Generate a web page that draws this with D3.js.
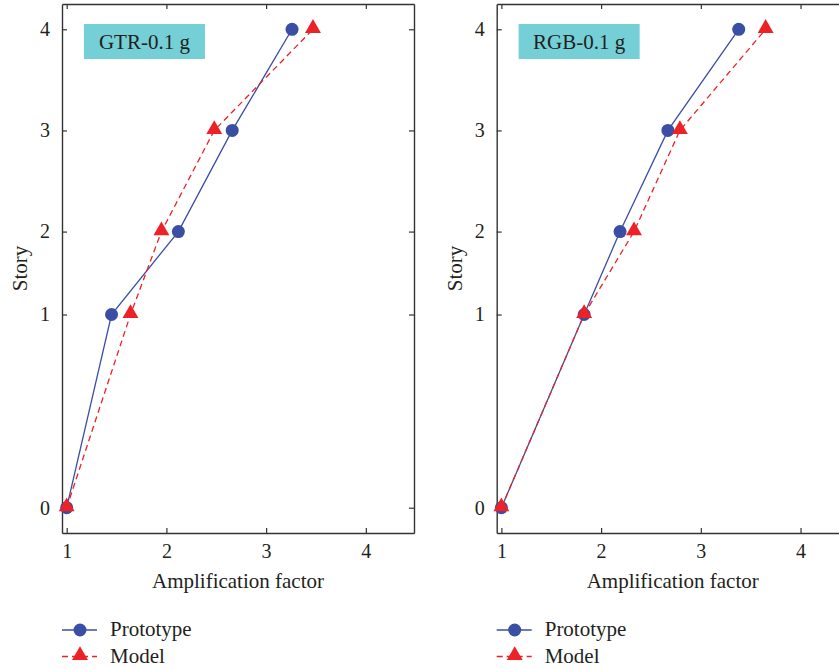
<!DOCTYPE html>
<html>
<head>
<meta charset="utf-8">
<script src="https://cdn.jsdelivr.net/npm/d3@7"></script>
<style>
  body { margin: 0; background: #fff; overflow: hidden; }
</style>
</head>
<body>
<div class="container__chart"></div>
<script>
// data
const storyLabels = [0, 1, 2, 3, 4];
// relative floor elevations (upper stories equal height, first story taller)
const storyLevels = [0, 1.91, 2.73, 3.73, 4.73];
const xTicks = [1, 2, 3, 4];
const panelTitles = ["GTR-0.1 g", "RGB-0.1 g"];
const gtrPrototype = [1, 1.45, 2.12, 2.66, 3.26];
const gtrModel = [1, 1.64, 1.95, 2.48, 3.47];
const rgbPrototype = [1, 1.83, 2.19, 2.67, 3.38];
const rgbModel = [1, 1.83, 2.33, 2.79, 3.65];
const seriesNames = ["Prototype", "Model"];

const WIDTH = 839;
const HEIGHT = 669;
const PLOT_W = 352;
const PLOT_H = 529;
const TOP = 4;
const BLUE = "#3a4ea3";
const RED = "#ec2227";
const AXIS = "#333";
const FONT = '"Liberation Serif", "DejaVu Serif", serif';
const INK = "#231f20";

const svg = d3.select(".container__chart")
    .append("svg")
    .attr("width", WIDTH)
    .attr("height", HEIGHT)
    .style("font-family", FONT);

const xScale = d3.scaleLinear().domain([0.953, 4.483]).range([0, PLOT_W]);
const yScale = d3.scaleLinear().domain([-0.25, 4.98]).range([PLOT_H, 0]);

const panels = [
    { left: 62, title: panelTitles[0], proto: gtrPrototype, model: gtrModel },
    { left: 496.7, title: panelTitles[1], proto: rgbPrototype, model: rgbModel }
];

const line = d3.line()
    .x(d => xScale(d[0]))
    .y(d => yScale(d[1]));

const triangle = d3.symbol().type(d3.symbolTriangle).size(110);

const label = (sel, size) => sel
    .style("font-family", FONT)
    .style("font-size", size + "px")
    .attr("fill", INK);

panels.forEach(p => {
    const g = svg.append("g").attr("transform", `translate(${p.left},${TOP})`);

    //axes, ticks pointing inwards on all sides
    const bottom = g.append("g").attr("transform", `translate(0,${PLOT_H})`)
        .call(d3.axisBottom(xScale).tickValues(xTicks).tickSizeInner(-5).tickSizeOuter(0).tickPadding(11)
            .tickFormat(d3.format("d")));
    const top = g.append("g")
        .call(d3.axisTop(xScale).tickValues(xTicks).tickSizeInner(-5).tickSizeOuter(0).tickFormat(""));
    const left = g.append("g")
        .call(d3.axisLeft(yScale).tickValues(storyLevels).tickSizeInner(-5).tickSizeOuter(0).tickPadding(12)
            .tickFormat((d, i) => storyLabels[i]));
    const right = g.append("g").attr("transform", `translate(${PLOT_W},0)`)
        .call(d3.axisRight(yScale).tickValues(storyLevels).tickSizeInner(-5).tickSizeOuter(0).tickFormat(""));

    [bottom, top, left, right].forEach(a => {
        a.attr("font-family", null);
        a.select(".domain").attr("stroke", AXIS).attr("stroke-width", 1.4);
        a.selectAll(".tick line").attr("stroke", AXIS).attr("stroke-width", 1.2);
        a.selectAll(".tick text").call(label, 20);
    });

    //title box
    g.append("rect")
        .attr("x", xScale(1.173)).attr("y", 20)
        .attr("width", 121).attr("height", 35)
        .attr("fill", "#74cfd7");
    g.append("text")
        .attr("x", xScale(1.173) + 60.5).attr("y", 44.5)
        .attr("text-anchor", "middle")
        .call(label, 21)
        .text(p.title);

    //axis labels
    g.append("text")
        .attr("x", PLOT_W / 2).attr("y", 584)
        .attr("text-anchor", "middle")
        .call(label, 21)
        .text("Amplification factor");
    g.append("text")
        .attr("transform", `translate(-35,${PLOT_H / 2}) rotate(-90)`)
        .attr("text-anchor", "middle")
        .call(label, 21)
        .text("Story");

    const protoPts = p.proto.map((v, i) => [v, storyLevels[i]]);
    const modelPts = p.model.map((v, i) => [v, storyLevels[i]]);

    g.append("path").datum(protoPts)
        .attr("d", line).attr("fill", "none")
        .attr("stroke", BLUE).attr("stroke-width", 1.3);
    g.append("path").datum(modelPts)
        .attr("d", line).attr("fill", "none")
        .attr("stroke", RED).attr("stroke-width", 1.3)
        .attr("stroke-dasharray", "6,4");

    g.selectAll(".proto").data(protoPts).enter()
        .append("circle")
        .attr("cx", d => xScale(d[0])).attr("cy", d => yScale(d[1]))
        .attr("r", 6.5).attr("fill", BLUE);
    g.selectAll(".model").data(modelPts).enter()
        .append("path")
        .attr("d", triangle)
        .attr("transform", d => `translate(${xScale(d[0])},${yScale(d[1]) - 1})`)
        .attr("fill", RED);

    //legend
    const legend = g.append("g").attr("transform", "translate(0,626)");
    seriesNames.forEach((name, i) => {
        const ly = i * 26.5;
        legend.append("line")
            .attr("x1", 0).attr("x2", 35).attr("y1", ly).attr("y2", ly)
            .attr("stroke", i ? RED : BLUE).attr("stroke-width", 1.3)
            .attr("stroke-dasharray", i ? "6,4" : null);
        if (i) {
            legend.append("path").attr("d", triangle)
                .attr("transform", `translate(18,${ly - 1})`).attr("fill", RED);
        } else {
            legend.append("circle").attr("cx", 18).attr("cy", ly).attr("r", 6.5).attr("fill", BLUE);
        }
        legend.append("text")
            .attr("x", 48).attr("y", ly + 6)
            .call(label, 21)
            .text(name);
    });
});
</script>
</body>
</html>
